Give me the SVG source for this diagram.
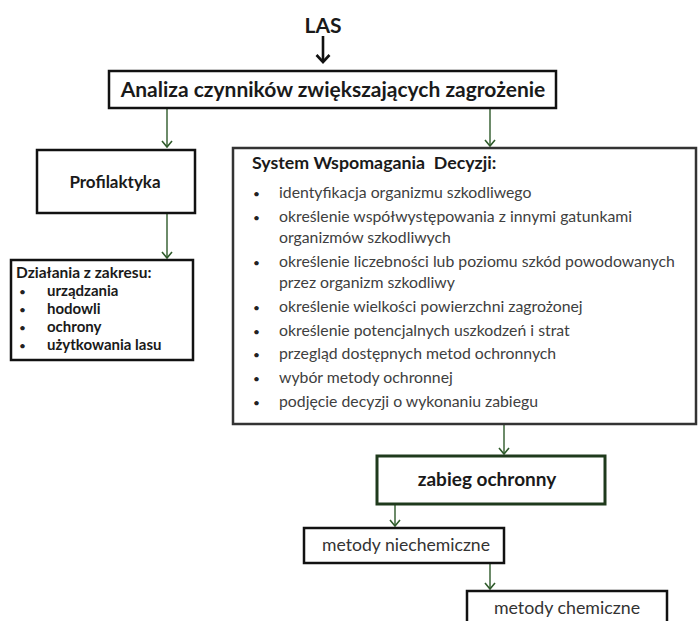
<svg xmlns="http://www.w3.org/2000/svg" width="698" height="621" viewBox="0 0 698 621">
<defs>
<marker id="ag" markerWidth="12" markerHeight="12" refX="10" refY="6" orient="auto" markerUnits="userSpaceOnUse" viewBox="0 0 12 12">
<path d="M4,1 L10,6 L4,11" fill="none" stroke="#2e5a2a" stroke-width="1.6"/>
</marker>
<marker id="ab" markerWidth="16" markerHeight="16" refX="13" refY="8" orient="auto" markerUnits="userSpaceOnUse" viewBox="0 0 16 16">
<path d="M6,1.5 L13,8 L6,14.5" fill="none" stroke="#111" stroke-width="2.6"/>
</marker>
</defs>
<style>
.box{fill:#fff;stroke:#111;stroke-width:2.5}
.boxg{fill:#fff;stroke:#1f3a1c;stroke-width:3}
.boxd{fill:#fff;stroke:#333;stroke-width:2.5}
.b{font-family:Lato,"Open Sans",sans-serif;font-weight:bold;fill:#1a1a1a}
.r{font-family:Lato,"Open Sans",sans-serif;fill:#404040;font-size:15.8px}
.d{font-family:Lato,"Open Sans",sans-serif;fill:#222;font-size:12px}
.cg{stroke:#2e5a2a;stroke-width:1.4;fill:none}
</style>
<rect width="698" height="621" fill="#fff"/>
<g id="connectors">
<line x1="323" y1="36" x2="323" y2="62" stroke="#111" stroke-width="2.6" marker-end="url(#ab)"/>
<line class="cg" x1="167" y1="109" x2="167" y2="147" marker-end="url(#ag)"/>
<line class="cg" x1="490" y1="109" x2="490" y2="146" marker-end="url(#ag)"/>
<line class="cg" x1="167" y1="214" x2="167" y2="258" marker-end="url(#ag)"/>
<line class="cg" x1="504" y1="425" x2="504" y2="454" marker-end="url(#ag)"/>
<line class="cg" x1="395" y1="505" x2="395" y2="526" marker-end="url(#ag)"/>
<line class="cg" x1="490" y1="564" x2="490" y2="589" marker-end="url(#ag)"/>
</g>
<g id="las">
<text class="b" x="323" y="33" font-size="21" text-anchor="middle">LAS</text>
</g>
<g id="analiza">
<rect class="box" x="109" y="71" width="447" height="37"/>
<text class="b" x="333" y="97" font-size="21" text-anchor="middle">Analiza czynników zwiększających zagrożenie</text>
</g>
<g id="profilaktyka">
<rect class="box" x="37" y="150" width="158" height="63"/>
<text class="b" x="115" y="188" font-size="17" text-anchor="middle">Profilaktyka</text>
</g>
<g id="dzialania">
<rect class="box" x="11" y="260" width="182" height="100"/>
<text class="b" x="16" y="278" font-size="15.5">Działania z zakresu:</text>
<g class="d">
<text x="19" y="296">•</text><text x="19" y="314">•</text><text x="19" y="332">•</text><text x="19" y="350">•</text>
</g>
<g class="b" font-size="15">
<text x="47" y="296">urządzania</text>
<text x="47" y="314">hodowli</text>
<text x="47" y="332">ochrony</text>
<text x="47" y="350">użytkowania lasu</text>
</g>
</g>
<g id="system">
<rect class="boxd" x="233" y="148" width="463" height="276"/>
<text class="b" x="252" y="169" font-size="17.8">System Wspomagania&#160; Decyzji:</text>
<g class="d">
<text x="253" y="198">•</text><text x="253" y="222">•</text><text x="253" y="267">•</text><text x="253" y="312">•</text>
<text x="253" y="336">•</text><text x="253" y="359">•</text><text x="253" y="383">•</text><text x="253" y="407">•</text>
</g>
<g class="r">
<text x="279" y="198">identyfikacja organizmu szkodliwego</text>
<text x="279" y="222">określenie współwystępowania z innymi gatunkami</text>
<text x="279" y="243">organizmów szkodliwych</text>
<text x="279" y="267">określenie liczebności lub poziomu szkód powodowanych</text>
<text x="279" y="288">przez organizm szkodliwy</text>
<text x="279" y="312">określenie wielkości powierzchni zagrożonej</text>
<text x="279" y="336">określenie potencjalnych uszkodzeń i strat</text>
<text x="279" y="359">przegląd dostępnych metod ochronnych</text>
<text x="279" y="383">wybór metody ochronnej</text>
<text x="279" y="407">podjęcie decyzji o wykonaniu zabiegu</text>
</g>
</g>
<g id="zabieg">
<rect class="boxg" x="377" y="456" width="228" height="48"/>
<text class="b" x="487" y="486" font-size="19" text-anchor="middle">zabieg ochronny</text>
</g>
<g id="niechemiczne">
<rect class="box" x="304" y="528" width="200" height="35"/>
<text class="r" x="406" y="551" text-anchor="middle" style="font-size:17.6px;fill:#333">metody niechemiczne</text>
</g>
<g id="chemiczne">
<rect class="box" x="467" y="591" width="200" height="40"/>
<text class="r" x="567" y="614" text-anchor="middle" style="font-size:17.8px;fill:#333">metody chemiczne</text>
</g>
</svg>
